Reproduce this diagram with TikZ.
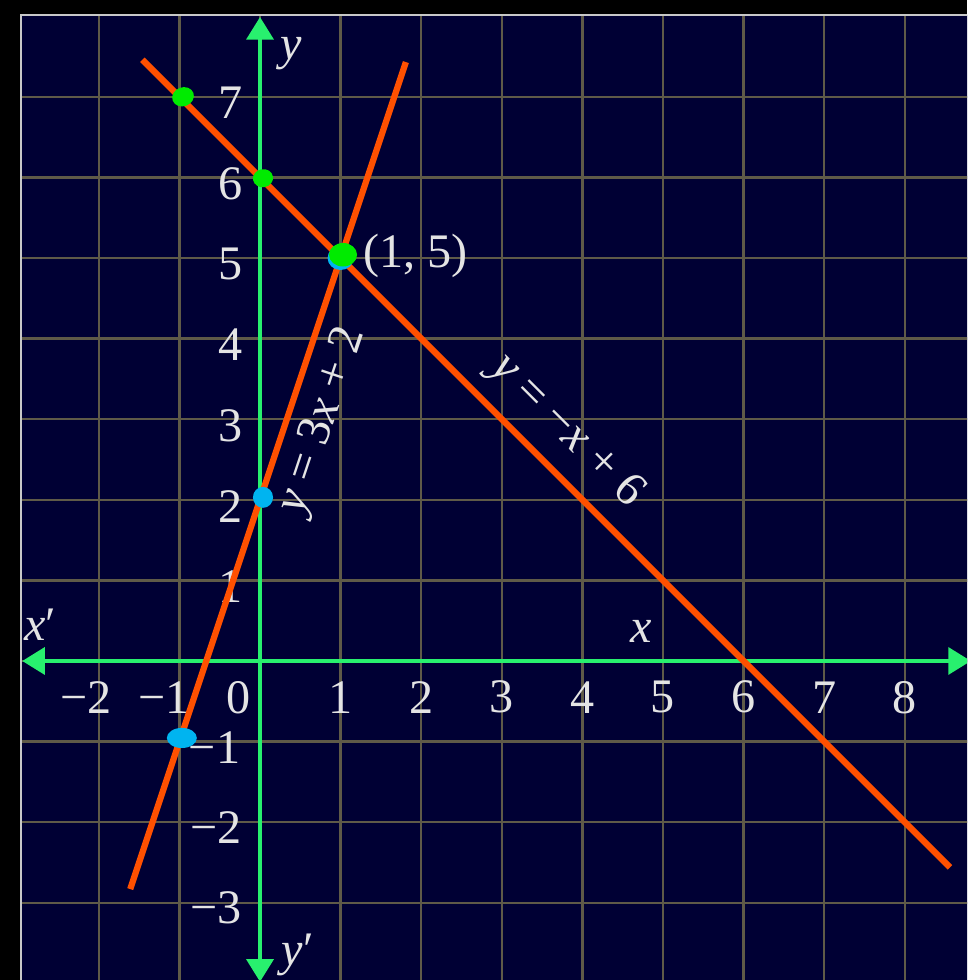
\documentclass[tikz,border=0pt]{standalone}
\usepackage{fontspec}
\setmainfont{Liberation Serif}
\usetikzlibrary{arrows.meta,shapes.geometric}
\definecolor{navy}{RGB}{0,0,52}
\definecolor{gridc}{RGB}{95,90,72}
\definecolor{axisg}{RGB}{40,240,110}
\definecolor{lineo}{RGB}{255,80,0}
\definecolor{dotg}{RGB}{0,235,0}
\definecolor{dotb}{RGB}{0,180,240}
\definecolor{txt}{RGB}{228,228,228}
\definecolor{framec}{RGB}{200,200,200}
\begin{document}
\begin{tikzpicture}[x=1cm,y=1cm,
  gridline/.style={draw=gridc,line width=0.9pt},
  axisline/.style={draw=axisg,line width=1.4pt,{Triangle[width=9.5pt,length=8pt]}-{Triangle[width=9.5pt,length=8pt]}},
  graphline/.style={draw=lineo,line width=2.2pt},
  lbl/.style={text=txt,font=\fontsize{17}{20}\selectfont,inner sep=0pt},
  gdot/.style={fill=dotg,draw=none,ellipse,inner sep=0pt},
  bdot/.style={fill=dotb,draw=none,ellipse,inner sep=0pt}]
\useasboundingbox (-3.226,-3.958) rectangle (8.772,8.201);
\clip (-3.226,-3.958) rectangle (8.772,8.201);
\fill[black] (-3.226,-3.958) rectangle (8.772,8.201);
% plotting area
\fill[navy] (-2.965,-4.2) rectangle (9,8.015);
\foreach \i in {-2,...,8} \draw[gridline] (\i,-4.2) -- (\i,8.015);
\foreach \j in {-3,...,7} \draw[gridline] (-2.965,\j) -- (9,\j);
\draw[framec,line width=1pt] (-2.965,-4.2) -- (-2.965,8.015) -- (9,8.015);
% axes
\coordinate (xl) at (-2.95,0);
\coordinate (xr) at (8.82,0);
\coordinate (yt) at (0,7.99);
\coordinate (yb) at (0,-3.98);
\draw[axisline] (xl) -- (xr);
\draw[axisline] (yb) -- (yt);
% axis names
\node[lbl] (ylab) at (0.385,7.53) {\textit{y}};
\node[lbl] (yplab) at (0.47,-3.65) {\textit{y}′};
\node[lbl] (xplab) at (-2.73,0.45) {\textit{x}′};
\node[lbl] (xlab) at (4.73,0.37) {\textit{x}};
% x tick labels
\node[lbl] (xm2) at (-2.16,-0.45) {−2};
\node[lbl] (xm1) at (-1.19,-0.45) {−1};
\node[lbl] (x0) at (-0.27,-0.45) {0};
\foreach \i in {1,...,8} \node[lbl] (x\i) at (\i,-0.45) {\i};
% y tick labels
\foreach \j in {1,...,7} \node[lbl,anchor=east] (y\j) at (-0.21,\j-0.08) {\j};
\node[lbl,anchor=east] (ym1) at (-0.24,-1.07) {−1};
\node[lbl,anchor=east] (ym2) at (-0.22,-2.07) {−2};
\node[lbl,anchor=east] (ym3) at (-0.22,-3.06) {−3};
% graph lines
\coordinate (a1) at (-1.46,7.46);
\coordinate (a2) at (8.56,-2.56);
\coordinate (b1) at (-1.61,-2.83);
\coordinate (b2) at (1.81,7.43);
\draw[graphline] (a1) -- (a2);
\draw[graphline] (b1) -- (b2);
% equation labels
\node[lbl,rotate=71.57] (eqb) at (0.78,2.98) {\textit{y} = 3\textit{x} + 2};
\node[lbl,rotate=-45] (eqa) at (3.80,2.85) {\textit{y} = −\textit{x} + 6};
\node[lbl,anchor=west] (pt) at (1.28,5.02) {(1, 5)};
% dots
\node[gdot,minimum width=7.8pt,minimum height=6.7pt,rotate=20] (g1) at (-0.955,7.0) {};
\node[gdot,minimum width=7.1pt,minimum height=6.4pt,rotate=10] (g2) at (0.037,5.99) {};
\node[bdot,minimum width=9.2pt,minimum height=8.5pt] (b15) at (1.0,5.0) {};
\node[gdot,minimum width=9.9pt,minimum height=8.3pt] (g3) at (1.03,5.04) {};
\node[bdot,minimum width=7.1pt,minimum height=7.4pt] (bb2) at (0.037,2.03) {};
\node[bdot,minimum width=10.6pt,minimum height=7.1pt] (bb3) at (-0.97,-0.955) {};
\end{tikzpicture}
\end{document}
